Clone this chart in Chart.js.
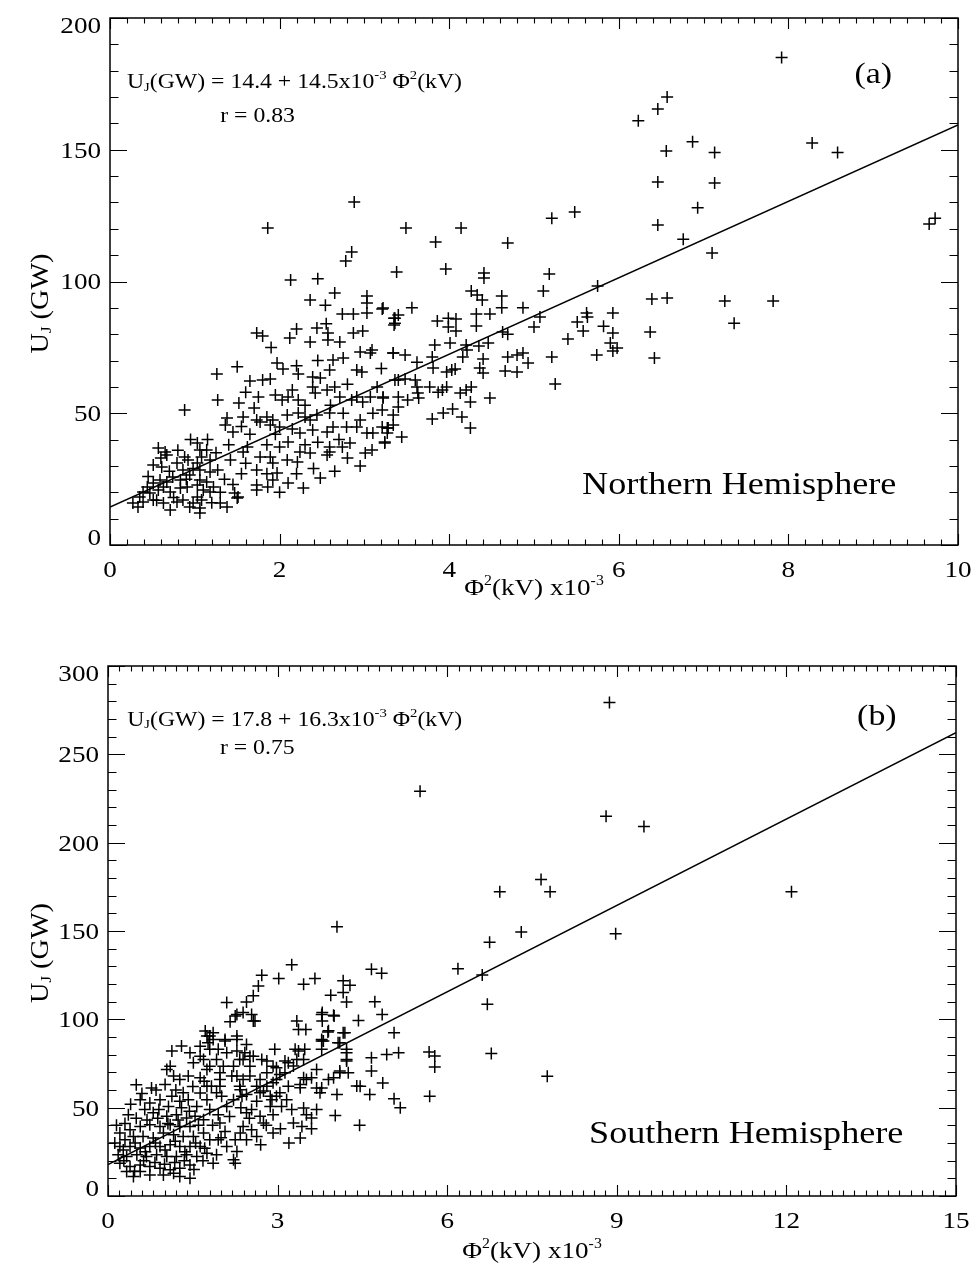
<!DOCTYPE html>
<html>
<head>
<meta charset="utf-8">
<script src="https://cdn.jsdelivr.net/npm/chart.js@4.4.1/dist/chart.umd.min.js"></script>
<style>
  html, body { margin: 0; padding: 0; background: #fff; }
  #page { position: relative; width: 971px; height: 1268px; }
  canvas { position: absolute; left: 0; }
</style>
</head>
<body>
<div id="page">
  <canvas id="north" width="971" height="620" style="top:0"></canvas>
  <canvas id="south" width="971" height="648" style="top:620px"></canvas>
</div>
<script>
// --- Data (x = Phi^2 in 10^3 kV^2, y = U_J in GW) ---
const northTicksX = [0, 2, 4, 6, 8, 10];
const northTicksY = [0, 50, 100, 150, 200];
const southTicksX = [0, 3, 6, 9, 12, 15];
const southTicksY = [0, 50, 100, 150, 200, 250, 300];

// fit lines as drawn (end points)
const northFitX = [0, 10];
const northFitY = [14.4, 159.4];
const southFitX = [0, 15];
const southFitY = [17.8, 262.3];

// Northern hemisphere: sparse upper / right points
const northOuter = [
  [7.92,185],[6.57,170],[6.46,165.5],[6.23,161],[6.87,153],[7.13,149],[6.56,149.5],[8.28,152.6],[8.58,149],
  [6.46,137.8],[7.13,137.4],[6.93,128],[6.46,121.4],[6.76,116],[7.10,110.8],[9.66,121.8],[9.73,124],
  [6.39,93.4],[6.57,93.7],[7.25,92.6],[7.82,92.6],[7.36,84.2],[5.93,88],[5.82,83],[5.93,80.5],[6.37,80.8],
  [5.90,76.7],[5.98,74.8],[5.93,73.6],[6.42,71],
  [1.86,120.3],[2.88,130.2],[2.85,111.2],[2.78,107.8],[2.13,100.6],[2.65,95.6],[3.03,94.5],[2.45,101],
  [2.36,93],[2.54,91],[3.03,91.8],[2.74,87.7]
];
// Northern hemisphere: middle band (3 - 6)
const northMid = [
  [5.21,124],[5.48,126.4],[3.49,120.3],[4.14,120.3],[3.84,115],[4.69,114.6],[3.38,103.6],[3.96,104.7],
  [4.41,103.2],[4.41,101.3],[5.18,102.8],[5.11,96.4],[5.75,98.3],[4.26,96.4],[4.33,94.9],[4.39,93],
  [4.62,94.5],[4.62,90],[4.87,90],[3.56,90],[3.21,89.6],[3.40,87.3],[3.35,86.1],[3.35,83.5],[3.86,85],
  [3.99,86.1],[4.08,85.8],[3.99,82.7],[4.08,81.2],[4.32,87.7],[4.32,83.1],[4.48,87.7],[5.0,82.7],
  [5.07,86.5],[4.63,80.8],[4.69,80],[5.51,84.6],[5.62,88],[5.63,86.5],[5.58,81.2],[5.40,78.2],[5.74,72.1],
  [5.21,71.3],[5.25,61.1],[3.34,72.9],[3.48,72.1],[3.83,75.9],[4.01,76.7],[4.20,75.9],[4.35,75.5],
  [4.46,76.7],[4.21,74],[3.62,69.4],[3.80,71.3],[4.16,71.3],[4.40,70.6],[4.69,71.3],[4.80,72.1],
  [4.87,72.9],[4.93,69.1],[3.81,67.2],[3.97,65.7],[4.03,66.4],[4.07,66.8],[4.36,67.2],[4.40,65.3],
  [4.66,66],[4.80,65.7],[3.36,62.6],[3.48,63],[3.60,62.6],[3.62,60],[3.77,60],[3.92,58.8],[3.97,60],
  [4.13,57.7],[4.20,58.8],[4.26,60],[4.25,54.3],[4.48,55.8],[3.22,55.8],[3.40,56.2],[3.51,55],[3.64,55.8],
  [3.87,58],[3.21,51.2],[3.34,49.3],[3.80,47.8],[3.93,50.1],[4.04,51.6],[4.15,48.6],[4.25,44.4],
  [3.27,42.5],[3.44,41],[3.21,44.8],[3.28,44.4],[3.24,38.7],[3.40,52.4],[3.63,57.7]
];
// Northern hemisphere: dense cluster (0 - 3.4)
const northCore = [
  [2.87,87.7],[3.03,88],[3.22,89.9],[3.36,86.1],[3.36,84.2],[1.73,80.5],[1.80,79.3],[2.12,78.6],[2.36,77],
  [2.44,82.4],[2.57,77.8],[2.57,80.5],[2.71,77],[2.87,80.5],[2.98,81.2],[3.07,72.9],[3.09,74],[2.95,73.2],
  [3.34,72.9],[2.63,70.2],[1.97,69.1],[2.04,66.8],[1.50,67.6],[1.26,64.9],[1.65,62.2],[1.80,62.6],
  [1.89,63],[2.22,64.9],[2.39,63.8],[2.48,63.4],[2.59,66.4],[2.91,66.4],[2.97,65.7],[3.40,62.6],
  [1.75,56.2],[1.27,55],[1.52,53.9],[1.95,56.9],[2.03,55],[2.15,58.8],[2.10,56.2],[2.22,55],[2.39,60],
  [2.42,57.7],[2.56,58.8],[2.71,56.2],[2.85,55],[2.91,56.2],[2.98,54.3],[3.07,56.2],[3.22,56.2],
  [0.88,51.2],[1.38,48.2],[1.57,48.6],[1.73,47.4],[1.85,48.6],[1.92,47.4],[2.09,49.3],[2.22,50.1],
  [2.30,48.6],[2.44,49.3],[2.59,50.1],[2.36,47.4],[1.36,45.5],[1.45,42.9],[1.77,46.7],[1.89,45.5],
  [2.00,44.8],[2.24,42.5],[2.39,43.6],[2.56,42.9],[2.63,44.8],[2.79,44.8],[2.91,44.8],[2.95,47.4],
  [3.03,42.5],[3.10,42.5],[3.27,44.4],[3.34,45.5],[3.24,39.1],[2.83,38.7],[3.01,34.9],[3.09,36.1],
  [2.74,37.2],[2.59,37.2],[2.56,34.2],[2.59,35.3],[2.36,34.9],[2.24,35.3],[2.10,39.1],[2.00,37.2],
  [1.89,33.4],[1.92,31.1],[2.21,31.5],[2.09,32.3],[1.77,33.4],[1.62,37.2],[1.57,35.3],[1.73,28.5],
  [1.92,24.7],[1.97,27.3],[2.10,23.5],[1.86,22],[1.73,22.8],[1.73,20.9],[1.47,19.7],[1.50,17.8],
  [1.51,18.2],[1.38,14.4],[1.30,15.9],[1.27,28.5],[1.42,32.3],[2.48,25.4],[2.28,21.6],[0.57,36.8],
  [0.65,35.3],[0.67,34.2],[0.51,30.4],[0.61,29.6],[0.79,31.1],[0.88,33.4],[0.92,32.3],[1.03,38.7],
  [1.06,36.1],[1.14,36.1],[1.08,33.4],[1.03,31.1],[1.18,32.3],[1.06,28.5],[1.18,27.7],[0.86,28.5],
  [0.94,26.6],[0.83,24.7],[0.74,25.8],[0.67,23.9],[0.59,24.7],[0.51,23.5],[0.44,22],[0.39,20.1],
  [0.47,19.7],[0.57,20.9],[0.63,22],[0.71,20.1],[0.83,21.6],[0.91,22],[1.03,22.8],[1.06,24.7],
  [1.14,23.9],[1.10,20.9],[1.03,18.2],[1.08,17.1],[0.98,15.9],[1.06,14],[1.06,12.1],[0.94,14.4],
  [0.86,17.1],[0.79,16.3],[0.71,13.3],[0.63,15.9],[0.51,17.1],[0.39,16.3],[0.33,14.4],[0.27,15.9],
  [0.35,18.2],[1.18,20.1],[1.22,22],
  [0.45,26],[0.55,17],[0.75,18],[0.90,25],[0.98,29],[0.70,28],[0.60,33],[0.80,36],[0.95,40],[1.15,40],
  [1.25,35],[1.35,25],[1.30,20],[1.20,16],[1.45,23],[1.55,27],[1.60,31],[1.65,42],[1.55,45],[1.40,38],
  [1.85,38],[1.95,42],[2.15,44],[2.30,38],[2.45,39],[2.70,40],[2.80,33],[2.95,30],[2.65,28],[2.40,29],
  [1.85,27],[2.00,20],[2.20,27],[1.60,58],[1.70,52],[2.30,53],[2.60,53],[2.75,50],[3.10,50],[3.15,60],
  [2.80,61],[2.65,60],[2.20,68],[2.45,70],[2.75,71],[3.20,67],[2.55,84],[2.20,82],[1.90,75]
];

// Southern hemisphere: sparse upper / right points
const southOuter = [
  [8.87,279.4],[5.52,229.1],[8.81,214.9],[9.48,209.2],[7.66,179.2],[7.82,172.2],[6.93,172.2],[12.09,172.2],
  [7.31,149.4],[8.98,148.5],[6.75,143.7],[6.19,128.6],[6.62,125.1],[6.71,108.6],[5.68,81.5],[5.78,79.2],
  [5.78,73],[6.78,80.6],[7.77,67.8],[5.69,56.5],[4.05,152.4]
];
// Southern hemisphere: middle band (1.6 - 5.2)
const southMid = [
  [3.25,130.9],[2.72,125],[3.02,123.1],[3.66,123.1],[3.46,119.9],[2.66,118.9],[4.66,128.4],[4.84,126.1],
  [4.16,121.8],[4.28,119.3],[4.16,115.2],[3.94,113.6],[4.22,109.8],[4.72,110],[4.85,102.8],[4.43,99.4],
  [4.00,101.9],[3.79,103.9],[3.79,99.1],[3.34,99.1],[3.37,94.3],[3.50,94.3],[3.89,92.8],[4.16,92.4],
  [5.06,92.4],[2.10,109.5],[2.45,109.8],[2.57,113.3],[2.25,101.9],[2.16,98.6],[2.54,102.8],[2.60,99.1],
  [1.72,93.4],[1.86,92.4],[2.28,90.5],[2.07,87.7],[1.86,88.6],[3.81,87.7],[4.07,86.8],[4.22,83],
  [4.66,78.2],[4.93,80.1],[5.14,81.1],[4.66,70.7],[4.86,64.0],[4.46,62.1],[4.63,57.4],[4.22,77.3],
  [4.10,69.7],[4.25,69.7],[4.05,57.4],[3.78,88.6],[3.78,83],[3.31,83],[3.48,83],[3.46,77.3],[3.34,77.3],
  [3.69,71.6],[3.90,65.9],[3.46,66.9],[3.60,66.9],[3.40,63.1],[3.69,61.2],[3.75,58.4],[2.95,83],
  [2.92,73.5],[3.19,75.4],[3.13,69.7],[2.98,65.9],[3.19,62.1],[3.04,58.4],[2.81,62.1],[2.72,77.3],
  [2.57,79.1],[2.42,81.1],[2.33,77.3],[2.51,73.5],[2.22,73.5],[2.04,73.5],[1.80,73.5],[1.69,77.3],
  [1.98,69.7],[2.28,67.9],[2.51,67.9],[2.81,69.7],[2.63,62.1],[2.33,62.1],[1.98,62.1],[1.75,62.1],
  [1.92,58.4],[2.45,57.4],[2.69,58.4],[2.87,56.5],[1.75,90.5],[1.63,84.8],[1.77,86.8],[1.95,83],
  [2.39,103.8],[5.06,55],[5.17,50],[4.45,40]
];
// Southern hemisphere: dense cluster (0 - 4.4)
const southCore = [
  [2.28,102.8],[2.57,99.1],[3.78,102.8],[3.99,102.3],[3.90,93.5],[4.19,92.4],[3.78,87.8],[3.37,82.1],
  [4.10,86.8],[4.22,81.1],[4.22,76.4],[4.40,62.2],[4.10,70.7],[3.99,66.9],[3.78,61.2],[3.51,65.9],
  [3.40,61.3],[3.28,73.6],[3.13,76.4],[3.04,68.8],[2.98,72.6],[2.81,76.4],[2.92,64.1],[2.69,65.9],
  [2.75,59.4],[2.98,56.5],[2.90,54.5],[3.16,54.5],[3.25,48.9],[3.46,49.8],[3.69,48.9],[3.51,46],
  [3.60,44.1],[4.02,45.5],[3.28,41.3],[3.43,39.4],[3.40,32.8],[2.69,45.1],[2.63,53.6],[2.54,48.9],
  [2.87,50.7],[2.92,46],[3.07,50.7],[2.45,47.1],[2.39,39.4],[2.34,35.7],[2.45,31.8],[2.25,31.8],
  [2.28,25.2],[2.22,20.5],[2.25,18.6],[1.98,41.3],[2.07,36.5],[1.95,31.8],[2.10,28],[1.92,23.3],
  [1.86,18.6],[1.95,46],[1.80,48.9],[2.10,50.7],[2.22,54.5],[2.37,56.5],[2.01,56.5],[1.75,54.5],
  [1.63,58.3],[1.83,62.1],[2.34,60.2],[1.63,66.9],[1.75,71.6],[1.98,65.9],[2.19,67.9],[2.39,65.9],
  [1.51,75.4],[1.63,79.1],[1.45,81.1],[1.80,83],[1.92,77.3],[2.10,81.1],[2.28,82.1],[2.39,77.3],
  [2.51,79.1],[2.45,85.8],[2.28,88.6],[2.07,88.6],[1.80,90.6],[1.30,84.9],[1.13,82.1],[1.04,71.6],
  [1.10,73.5],[1.16,67.9],[1.01,63.1],[1.27,65.9],[1.42,67.9],[1.33,58.4],[1.42,54.5],[1.27,53.6],
  [1.57,50.7],[1.13,56.5],[0.77,61.2],[0.57,54.5],[0.74,52.6],[0.92,54.5],[1.07,50.7],[0.36,46],
  [0.65,48.9],[0.80,47.1],[1.04,45.1],[1.21,46],[1.39,44.1],[1.54,45.1],[1.69,43.2],[1.45,39.4],
  [1.27,39.4],[1.10,40.3],[0.92,39.4],[0.74,40.3],[0.57,39.4],[0.39,37.5],[0.21,35.6],[0.30,31.8],
  [0.45,33.7],[0.62,33.7],[0.80,32.8],[0.98,35.6],[1.16,34.7],[1.33,33.7],[1.51,33.7],[1.69,35.6],
  [1.80,31.8],[1.63,28],[1.45,28],[1.27,28],[1.10,29],[0.92,28],[0.74,28],[0.57,27.1],[0.39,28],
  [0.21,28],[0.18,23.3],[0.33,22.3],[0.51,23.3],[0.68,22.3],[0.86,23.3],[1.04,22.3],[1.21,22.3],
  [1.39,23.3],[1.57,22.3],[1.75,24.2],[0.21,18.6],[0.39,16.7],[0.57,17.6],[0.74,16.7],[0.92,15.7],
  [1.10,14.8],[1.27,15.7],[1.45,17.6],[0.33,13.8],[0.45,11],[0.74,11.9],[0.98,11.9],[1.16,12.9],
  [1.45,10.1],[1.27,11],[0.57,13.8],[2.75,41.3],[2.54,37.5],[2.92,35.6],[2.63,33.7],
  [0.27,26],[0.48,30],[0.66,25],[0.84,30],[1.01,26],[1.19,31],[1.36,25],[1.55,30],[1.71,27],
  [0.30,41],[0.50,44],[0.69,43],[0.88,44],[1.06,41],[1.24,43],[1.44,48],[1.60,40],
  [0.40,52],[0.60,58],[0.85,60],[1.20,60],[1.50,62],[1.70,65],
  [0.28,20],[0.47,14],[0.63,20],[0.83,19],[1.00,18],[1.18,19],[1.35,20],[1.52,15],[1.68,20],
  [0.12,30],[0.15,40],[0.90,49],[1.30,50],[0.50,63],[1.85,40],[2.00,33],[2.15,45],[2.35,50],[2.50,44],
  [2.80,40],[2.70,29],[3.05,38],[3.60,38],[3.20,30]
];

const northPts = northOuter.concat(northMid, northCore);
const southPts = southOuter.concat(southMid, southCore);

// --- Drawing helpers ---
const SERIF = '"Liberation Serif", "DejaVu Serif", serif';
const STRETCH = 1.13; // the original lettering is a bit wider than Liberation Serif

// runs: [text, mode] with mode undefined | 'sub' | 'sup'
function richText(ctx, x, y, runs, size, align) {
  const small = Math.round(size * 0.6);
  const w = runs.map(r => {
    ctx.font = (r[1] ? small : size) + 'px ' + SERIF;
    return ctx.measureText(r[0]).width;
  });
  const total = w.reduce((a, b) => a + b, 0) * STRETCH;
  let x0 = x;
  if (align === 'center') x0 = x - total / 2;
  if (align === 'right') x0 = x - total;
  ctx.save();
  ctx.translate(x0, y + size * 0.33);
  ctx.scale(STRETCH, 1);
  ctx.textBaseline = 'alphabetic';
  ctx.textAlign = 'left';
  let cx = 0;
  runs.forEach((r, i) => {
    ctx.font = (r[1] ? small : size) + 'px ' + SERIF;
    let dy = 0;
    if (r[1] === 'sup') dy = -size * 0.42;
    if (r[1] === 'sub') dy = size * 0.12;
    ctx.fillText(r[0], cx, dy);
    cx += w[i];
  });
  ctx.restore();
}

// frame with IDL style inward ticks on all four sides, plus tick labels
const frameTicks = {
  id: 'frameTicks',
  afterDatasetsDraw(chart, args, opts) {
    const { ctx, chartArea: a, scales: { x, y } } = chart;
    ctx.save();
    ctx.strokeStyle = '#000';
    ctx.fillStyle = '#000';
    ctx.lineWidth = 1.5;
    ctx.strokeRect(a.left, a.top, a.right - a.left, a.bottom - a.top);
    ctx.lineWidth = 1.1;
    ctx.beginPath();
    const nx = Math.round((x.max - x.min) / opts.xMinor);
    for (let i = 0; i <= nx; i++) {
      const v = x.min + i * opts.xMinor;
      const q = v / opts.xMajor;
      const len = Math.abs(q - Math.round(q)) < 1e-6 ? 11 : 5.5;
      const px = Math.round(x.getPixelForValue(v)) + 0.5;
      ctx.moveTo(px, a.bottom); ctx.lineTo(px, a.bottom - len);
      ctx.moveTo(px, a.top); ctx.lineTo(px, a.top + len);
    }
    const ny = Math.round((y.max - y.min) / opts.yMinor);
    for (let i = 0; i <= ny; i++) {
      const v = y.min + i * opts.yMinor;
      const q = v / opts.yMajor;
      const len = Math.abs(q - Math.round(q)) < 1e-6 ? 17 : 8.5;
      const py = Math.round(y.getPixelForValue(v)) + 0.5;
      ctx.moveTo(a.left, py); ctx.lineTo(a.left + len, py);
      ctx.moveTo(a.right, py); ctx.lineTo(a.right - len, py);
    }
    ctx.stroke();
    // tick labels from the scales' own ticks
    x.ticks.forEach(t => {
      richText(ctx, x.getPixelForValue(t.value), a.bottom + 24, [[String(t.value)]], 24, 'center');
    });
    y.ticks.forEach(t => {
      const py = Math.min(Math.max(y.getPixelForValue(t.value), a.top + 7), a.bottom - 8);
      richText(ctx, a.left - 9, py, [[String(t.value)]], 24, 'right');
    });
    ctx.restore();
  }
};

// axis titles and text notes
const notes = {
  id: 'notes',
  afterDraw(chart, args, opts) {
    const { ctx, chartArea: a, scales: { x, y } } = chart;
    ctx.save();
    ctx.fillStyle = '#000';
    opts.items.forEach(it => {
      richText(ctx, x.getPixelForValue(it.x), y.getPixelForValue(it.y), it.runs, it.size, it.align);
    });
    richText(ctx, (a.left + a.right) / 2, a.bottom + opts.xTitleGap, opts.xTitle, 24, 'center');
    ctx.translate(opts.yTitleX, (a.top + a.bottom) / 2 + 22);
    ctx.rotate(-Math.PI / 2);
    richText(ctx, 0, 0, opts.yTitle, 25, 'center');
    ctx.restore();
  }
};

const xTitleRuns = [['Φ'], ['2', 'sup'], ['(kV) x10'], ['-3', 'sup']];
const yTitleRuns = [['U'], ['J', 'sub'], [' (GW)']];

function makeChart(id, pts, fitX, fitY, ticksX, ticksY, pad, xH, xTitleGap, noteItems) {
  return new Chart(document.getElementById(id), {
    type: 'scatter',
    data: {
      datasets: [
        {
          data: pts.map(p => ({ x: p[0], y: p[1] })),
          pointStyle: 'cross',
          pointRadius: 6,
          pointHoverRadius: 6,
          borderColor: '#000',
          backgroundColor: '#000',
          borderWidth: 1.5
        },
        {
          type: 'line',
          data: fitX.map((v, i) => ({ x: v, y: fitY[i] })),
          borderColor: '#000',
          borderWidth: 1.6,
          pointRadius: 0,
          fill: false,
          tension: 0
        }
      ]
    },
    options: {
      responsive: false,
      animation: false,
      devicePixelRatio: 1,
      events: [],
      layout: { padding: { top: pad.top, right: pad.right, left: 0, bottom: 0 } },
      scales: {
        x: {
          type: 'linear',
          min: ticksX[0],
          max: ticksX[ticksX.length - 1],
          afterBuildTicks: s => { s.ticks = ticksX.map(v => ({ value: v })); },
          ticks: { display: false },
          grid: { display: false, drawTicks: false },
          border: { display: false },
          afterFit: s => { s.height = xH; s.paddingLeft = 0; s.paddingRight = 0; }
        },
        y: {
          type: 'linear',
          min: ticksY[0],
          max: ticksY[ticksY.length - 1],
          afterBuildTicks: s => { s.ticks = ticksY.map(v => ({ value: v })); },
          ticks: { display: false },
          grid: { display: false, drawTicks: false },
          border: { display: false },
          afterFit: s => { s.width = pad.left; s.paddingTop = 0; s.paddingBottom = 0; }
        }
      },
      plugins: {
        legend: { display: false },
        tooltip: { enabled: false },
        frameTicks: {
          xMinor: 0.2,
          xMajor: ticksX[1] - ticksX[0],
          yMinor: 10,
          yMajor: 50
        },
        notes: {
          items: noteItems,
          xTitle: xTitleRuns,
          yTitle: yTitleRuns,
          xTitleGap: xTitleGap,
          yTitleX: 40
        }
      }
    },
    plugins: [frameTicks, notes]
  });
}

makeChart('north', northPts, northFitX, northFitY, northTicksX, northTicksY,
  { top: 18, right: 13, left: 110 }, 75, 42, [
    { x: 0.2, y: 176, size: 21, align: 'left',
      runs: [['U'], ['J', 'sub'], ['(GW) = 14.4 + 14.5x10'], ['-3', 'sup'], [' Φ'], ['2', 'sup'], ['(kV)']] },
    { x: 1.3, y: 163, size: 21, align: 'left', runs: [['r = 0.83']] },
    { x: 9.0, y: 179, size: 30, align: 'center', runs: [['(a)']] },
    { x: 7.42, y: 23.5, size: 32, align: 'center', runs: [['Northern Hemisphere']] }
  ]);

makeChart('south', southPts, southFitX, southFitY, southTicksX, southTicksY,
  { top: 46, right: 15, left: 108 }, 72, 54, [
    { x: 0.34, y: 270, size: 21, align: 'left',
      runs: [['U'], ['J', 'sub'], ['(GW) = 17.8 + 16.3x10'], ['-3', 'sup'], [' Φ'], ['2', 'sup'], ['(kV)']] },
    { x: 1.98, y: 254, size: 21, align: 'left', runs: [['r = 0.75']] },
    { x: 13.6, y: 272, size: 30, align: 'center', runs: [['(b)']] },
    { x: 11.29, y: 35.8, size: 32, align: 'center', runs: [['Southern Hemisphere']] }
  ]);
</script>
</body>
</html>
